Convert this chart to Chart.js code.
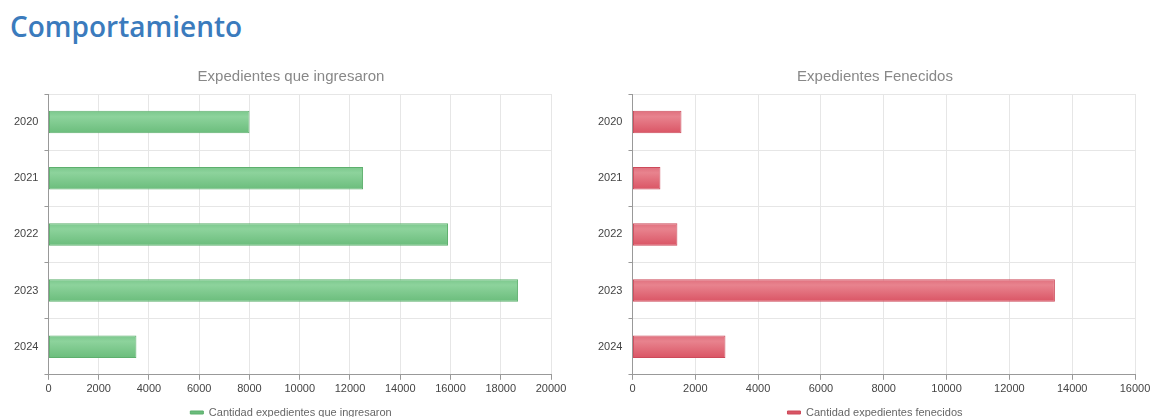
<!DOCTYPE html>
<html>
<head>
<meta charset="utf-8">
<script src="https://cdn.jsdelivr.net/npm/chart.js@4.4.1/dist/chart.umd.min.js"></script>
<style>
  body { margin: 0; background: #fff; font-family: "Open Sans", sans-serif; overflow: hidden; }
  h2 { position: absolute; left: 10px; top: 7px; margin: 0; font-size: 28px; font-weight: 600; color: #3b7bbd; }
  .box { position: absolute; top: 62px; height: 366px; }
  #left { left: 8px; width: 566px; }
  #right { left: 592px; width: 566px; }
</style>
</head>
<body>
<h2>Comportamiento</h2>
<div class="box" id="left"><canvas id="c1"></canvas></div>
<div class="box" id="right"><canvas id="c2"></canvas></div>
<script>
const years = ["2020", "2021", "2022", "2023", "2024"];
const ingresados = [8000, 12520, 15900, 18690, 3500];
const fenecidos = [1560, 890, 1430, 13450, 2960];

function barFill(top, mid, bottom) {
  return ctx => {
    const chart = ctx.chart;
    const y = chart.scales && chart.scales.y;
    if (!y || !chart.chartArea || ctx.dataIndex === undefined) return mid;
    const c = y.getPixelForValue(ctx.dataIndex);
    const half = 11;
    const g = chart.ctx.createLinearGradient(0, c - half, 0, c + half);
    g.addColorStop(0, top);
    g.addColorStop(0.25, mid);
    g.addColorStop(1, bottom);
    return g;
  };
}

function makeChart(id, title, label, values, max, fill, border) {
  return new Chart(document.getElementById(id), {
    type: "bar",
    data: {
      labels: years,
      datasets: [{
        label: label,
        data: values,
        backgroundColor: fill,
        borderColor: border,
        borderWidth: 1,
        borderSkipped: false,
        categoryPercentage: 1,
        barPercentage: 0.4
      }]
    },
    options: {
      indexAxis: "y",
      responsive: true,
      maintainAspectRatio: false,
      animation: false,
      scales: {
        x: {
          min: 0, max: max,
          ticks: { stepSize: 2000, color: "#444", font: { size: 11, family: "Arial" }, callback: v => String(v) },
          grid: { color: "#e6e6e6", tickColor: "#999", tickLength: 5 },
          border: { color: "#999" },
          // leave room on the right of the plot without shifting the title
          afterFit: scale => { scale.paddingRight = 23; }
        },
        y: {
          ticks: { color: "#444", font: { size: 11, family: "Arial" }, padding: 6 },
          grid: { color: "#e6e6e6", tickColor: "#999", tickLength: 4 },
          border: { color: "#999" }
        }
      },
      plugins: {
        title: {
          display: true, text: title, color: "#888",
          font: { size: 15, family: "Arial", weight: "normal" },
          padding: { top: 6, bottom: 8 }
        },
        legend: {
          position: "bottom",
          labels: { boxWidth: 13, boxHeight: 3, padding: 8, color: "#666", font: { size: 11, family: "Arial" } }
        },
        tooltip: { enabled: false }
      }
    }
  });
}

makeChart("c1", "Expedientes que ingresaron", "Cantidad expedientes que ingresaron", ingresados, 20000,
  barFill("#7cc88d", "#8dd39c", "#6bbd7c"), "#5daf6d");
makeChart("c2", "Expedientes Fenecidos", "Cantidad expedientes fenecidos", fenecidos, 16000,
  barFill("#e0707e", "#e8838e", "#da5565"), "#cc4a5a");
</script>
</body>
</html>
